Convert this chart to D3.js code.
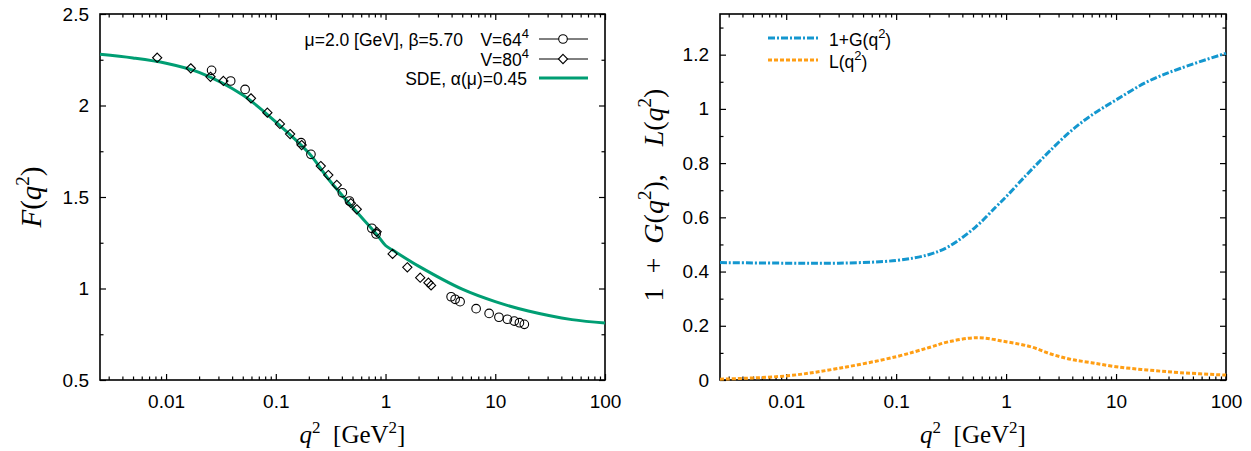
<!DOCTYPE html>
<html>
<head>
<meta charset="utf-8">
<script src="https://cdn.jsdelivr.net/npm/d3@7"></script>
<style>
  html, body { margin: 0; padding: 0; background: #fff; }
  svg { display: block; }
  .tick text { font-family: "Liberation Sans", Arial, sans-serif; font-size: 19px; fill: #000; }
  .axis path { display: none; }
  .axis line { stroke: #000; stroke-width: 1.2; }
  .lbl { font-family: "Liberation Serif", "DejaVu Serif", serif; fill: #000; }
  .leg { font-family: "Liberation Sans", Arial, sans-serif; font-size: 17.5px; fill: #000; }
</style>
</head>
<body>
<svg id="chart" width="1251" height="451"></svg>
<script>
// q^2 range shared by both panels (GeV^2)
const qDomain = [0.0025, 100];
const xMajor = [0.01, 0.1, 1, 10, 100];

// Lattice gluon dressing, V=64^4 (circles)
const latt64Q = [0.026, 0.0388, 0.0525, 0.170, 0.209, 0.404, 0.469, 0.75, 0.82, 3.96, 4.31, 4.78, 6.69, 8.79, 10.8, 12.9, 14.9, 16.6, 18.4];
const latt64F = [2.192, 2.134, 2.088, 1.797, 1.733, 1.523, 1.478, 1.329, 1.298, 0.955, 0.941, 0.928, 0.890, 0.864, 0.843, 0.832, 0.822, 0.813, 0.804];

// Lattice gluon dressing, V=80^4 (diamonds)
const latt80Q = [0.0083, 0.0168, 0.0254, 0.0333, 0.0594, 0.0838, 0.109, 0.135, 0.172, 0.257, 0.301, 0.36, 0.483, 0.547, 0.83, 1.16, 1.58, 2.07, 2.46, 2.6];
const latt80F = [2.261, 2.203, 2.157, 2.134, 2.039, 1.961, 1.899, 1.844, 1.784, 1.669, 1.620, 1.566, 1.466, 1.433, 1.310, 1.189, 1.116, 1.059, 1.032, 1.017];

// SDE solution F(q^2)
const sdeQ = [0.0025, 0.005, 0.01, 0.02, 0.05, 0.1, 0.2, 0.3, 0.5, 0.82, 1, 1.16, 2, 5, 10, 20, 50, 100];
const sdeF = [2.28, 2.26, 2.231, 2.181, 2.057, 1.91, 1.74, 1.60, 1.444, 1.30, 1.235, 1.21, 1.122, 0.996, 0.928, 0.877, 0.83, 0.812];

// 1+G(q^2) and L(q^2)
const gQ = [0.0025, 0.01, 0.03, 0.1, 0.2, 0.3, 0.53, 0.81, 1, 1.52, 2, 2.5, 3.8, 5.9, 10, 19.2, 38.7, 100];
const gV = [0.433, 0.431, 0.431, 0.441, 0.463, 0.492, 0.565, 0.639, 0.676, 0.755, 0.805, 0.845, 0.915, 0.975, 1.033, 1.10, 1.15, 1.205];
const lQ = [0.0025, 0.01, 0.03, 0.1, 0.2, 0.3, 0.55, 1, 1.66, 2.55, 3.9, 5.96, 10, 19.2, 38.7, 100];
const lV = [0.003, 0.015, 0.043, 0.086, 0.12, 0.141, 0.156, 0.141, 0.123, 0.096, 0.076, 0.064, 0.049, 0.037, 0.027, 0.018];

const GREEN = "#009e73", BLUE = "#1497cf", ORANGE = "#ff9e14";

const svg = d3.select("#chart");

function minorLog(domain) {
  const out = [];
  for (let e = -4; e <= 3; e++) {
    for (let m = 2; m <= 9; m++) {
      const v = m * Math.pow(10, e);
      if (v > domain[0] && v < domain[1]) out.push(v);
    }
  }
  return out;
}

function panel(opts) {
  const { left, right, top, bottom, yDomain, yMajor, yMinor, yFmt } = opts;
  const x = d3.scaleLog().domain(qDomain).range([left, right]);
  const y = d3.scaleLinear().domain(yDomain).range([bottom, top]);
  const g = svg.append("g");
  const maj = 6, mnr = 3.5;

  // bottom & top axes
  g.append("g").attr("class", "axis").attr("transform", `translate(0,${bottom})`)
    .call(d3.axisBottom(x).tickValues(xMajor).tickFormat(d3.format("~g")).tickSizeInner(-maj).tickSizeOuter(0).tickPadding(15));
  g.append("g").attr("class", "axis").attr("transform", `translate(0,${bottom})`)
    .call(d3.axisBottom(x).tickValues(minorLog(qDomain)).tickFormat("").tickSizeInner(-mnr).tickSizeOuter(0));
  g.append("g").attr("class", "axis").attr("transform", `translate(0,${top})`)
    .call(d3.axisTop(x).tickValues(xMajor).tickFormat("").tickSizeInner(-maj).tickSizeOuter(0));
  g.append("g").attr("class", "axis").attr("transform", `translate(0,${top})`)
    .call(d3.axisTop(x).tickValues(minorLog(qDomain)).tickFormat("").tickSizeInner(-mnr).tickSizeOuter(0));
  // left & right axes
  g.append("g").attr("class", "axis").attr("transform", `translate(${left},0)`)
    .call(d3.axisLeft(y).tickValues(yMajor).tickFormat(yFmt).tickSizeInner(-maj).tickSizeOuter(0).tickPadding(11));
  g.append("g").attr("class", "axis").attr("transform", `translate(${left},0)`)
    .call(d3.axisLeft(y).tickValues(yMinor).tickFormat("").tickSizeInner(-mnr).tickSizeOuter(0));
  g.append("g").attr("class", "axis").attr("transform", `translate(${right},0)`)
    .call(d3.axisRight(y).tickValues(yMajor).tickFormat("").tickSizeInner(-maj).tickSizeOuter(0));
  g.append("g").attr("class", "axis").attr("transform", `translate(${right},0)`)
    .call(d3.axisRight(y).tickValues(yMinor).tickFormat("").tickSizeInner(-mnr).tickSizeOuter(0));

  g.append("rect").attr("x", left).attr("y", top).attr("width", right - left).attr("height", bottom - top)
    .attr("fill", "none").attr("stroke", "#000").attr("stroke-width", 1.6);

  // x label: q^2 [GeV^2]
  const xl = g.append("text").attr("class", "lbl").attr("font-size", 25).attr("text-anchor", "middle")
    .attr("x", (left + right) / 2).attr("y", 443);
  xl.append("tspan").attr("font-style", "italic").text("q");
  xl.append("tspan").attr("font-size", 17).attr("dy", -10).text("2");
  xl.append("tspan").attr("dy", 10).text("\u2002[GeV");
  xl.append("tspan").attr("font-size", 17).attr("dy", -10).text("2");
  xl.append("tspan").attr("dy", 10).text("]");
  return { x, y, g };
}

// ---------- left panel: F(q^2) ----------
const L = panel({
  left: 100, right: 605, top: 14, bottom: 380,
  yDomain: [0.5, 2.5], yMajor: [0.5, 1, 1.5, 2, 2.5], yMinor: [0.75, 1.25, 1.75, 2.25],
  yFmt: d3.format("~g")
});

const yl1 = L.g.append("text").attr("class", "lbl").attr("font-size", 29).attr("text-anchor", "middle")
  .attr("transform", "translate(41,197) rotate(-90)");
yl1.append("tspan").attr("font-style", "italic").text("F");
yl1.append("tspan").text("(");
yl1.append("tspan").attr("font-style", "italic").text("q");
yl1.append("tspan").attr("font-size", 19).attr("dy", -12).text("2");
yl1.append("tspan").attr("dy", 12).text(")");

const sdeLine = d3.line().x(d => L.x(d[0])).y(d => L.y(d[1])).curve(d3.curveCatmullRom.alpha(0.5));
L.g.append("path").datum(d3.zip(sdeQ, sdeF)).attr("d", sdeLine)
  .attr("fill", "none").attr("stroke", GREEN).attr("stroke-width", 3);

const diamond = (r) => `M0,${-r}L${r},0L0,${r}L${-r},0Z`;

L.g.append("g").selectAll("circle").data(d3.zip(latt64Q, latt64F)).join("circle")
  .attr("cx", d => L.x(d[0])).attr("cy", d => L.y(d[1])).attr("r", 4.3)
  .attr("fill", "none").attr("stroke", "#000").attr("stroke-width", 1.1);
L.g.append("g").selectAll("path").data(d3.zip(latt80Q, latt80F)).join("path")
  .attr("transform", d => `translate(${L.x(d[0])},${L.y(d[1])})`).attr("d", diamond(4.6))
  .attr("fill", "none").attr("stroke", "#000").attr("stroke-width", 1.1);

// legend
const lg = L.g.append("g");
const t1 = lg.append("text").attr("class", "leg").attr("text-anchor", "end").attr("x", 529).attr("y", 46);
t1.append("tspan").text("\u03bc=2.0 [GeV], \u03b2=5.70\u2003V=64");
t1.append("tspan").attr("font-size", 13).attr("dy", -8).text("4");
const t2 = lg.append("text").attr("class", "leg").attr("text-anchor", "end").attr("x", 529).attr("y", 66);
t2.append("tspan").text("V=80");
t2.append("tspan").attr("font-size", 13).attr("dy", -8).text("4");
lg.append("text").attr("class", "leg").attr("text-anchor", "end").attr("x", 527).attr("y", 85)
  .text("SDE, \u03b1(\u03bc)=0.45");
lg.append("line").attr("x1", 539).attr("x2", 588).attr("y1", 39).attr("y2", 39).attr("stroke", "#000").attr("stroke-width", 1);
lg.append("circle").attr("cx", 563).attr("cy", 39).attr("r", 4.3).attr("fill", "#fff").attr("stroke", "#000").attr("stroke-width", 1.1);
lg.append("line").attr("x1", 539).attr("x2", 588).attr("y1", 59).attr("y2", 59).attr("stroke", "#000").attr("stroke-width", 1);
lg.append("path").attr("transform", "translate(563,59)").attr("d", diamond(4.6)).attr("fill", "#fff").attr("stroke", "#000").attr("stroke-width", 1.1);
lg.append("line").attr("x1", 539).attr("x2", 588).attr("y1", 78).attr("y2", 78).attr("stroke", GREEN).attr("stroke-width", 3);

// ---------- right panel: 1+G(q^2), L(q^2) ----------
const R = panel({
  left: 720, right: 1226, top: 14, bottom: 380,
  yDomain: [0, 1.35], yMajor: [0, 0.2, 0.4, 0.6, 0.8, 1, 1.2], yMinor: [0.1, 0.3, 0.5, 0.7, 0.9, 1.1, 1.3],
  yFmt: d3.format("~g")
});

const yl2 = R.g.append("text").attr("class", "lbl").attr("font-size", 28).attr("text-anchor", "middle")
  .attr("transform", "translate(663,195) rotate(-90)");
yl2.append("tspan").text("1\u2002+\u2002");
yl2.append("tspan").attr("font-style", "italic").text("G");
yl2.append("tspan").text("(");
yl2.append("tspan").attr("font-style", "italic").text("q");
yl2.append("tspan").attr("font-size", 19).attr("dy", -12).text("2");
yl2.append("tspan").attr("dy", 12).text("),\u2003");
yl2.append("tspan").attr("font-style", "italic").text("L");
yl2.append("tspan").text("(");
yl2.append("tspan").attr("font-style", "italic").text("q");
yl2.append("tspan").attr("font-size", 19).attr("dy", -12).text("2");
yl2.append("tspan").attr("dy", 12).text(")");

const rLine = d3.line().x(d => R.x(d[0])).y(d => R.y(d[1])).curve(d3.curveCatmullRom.alpha(0.5));
const gDash = "7,2,2,2";
const lDash = "4,2";
R.g.append("path").datum(d3.zip(gQ, gV)).attr("d", rLine)
  .attr("fill", "none").attr("stroke", BLUE).attr("stroke-width", 3).attr("stroke-dasharray", gDash);
R.g.append("path").datum(d3.zip(lQ, lV)).attr("d", rLine)
  .attr("fill", "none").attr("stroke", ORANGE).attr("stroke-width", 3).attr("stroke-dasharray", lDash);

const rg = R.g.append("g");
rg.append("line").attr("x1", 768).attr("x2", 818).attr("y1", 38).attr("y2", 38)
  .attr("stroke", BLUE).attr("stroke-width", 3).attr("stroke-dasharray", gDash);
rg.append("line").attr("x1", 768).attr("x2", 818).attr("y1", 60).attr("y2", 60)
  .attr("stroke", ORANGE).attr("stroke-width", 3).attr("stroke-dasharray", lDash);
const r1 = rg.append("text").attr("class", "leg").attr("x", 829).attr("y", 46);
r1.append("tspan").text("1+G(q");
r1.append("tspan").attr("font-size", 13).attr("dy", -8).text("2");
r1.append("tspan").attr("dy", 8).text(")");
const r2 = rg.append("text").attr("class", "leg").attr("x", 829).attr("y", 68);
r2.append("tspan").text("L(q");
r2.append("tspan").attr("font-size", 13).attr("dy", -8).text("2");
r2.append("tspan").attr("dy", 8).text(")");
</script>
</body>
</html>
